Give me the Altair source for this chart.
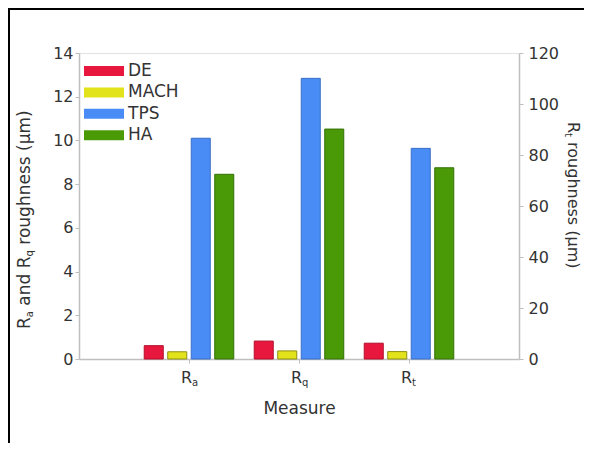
import altair as alt
import pandas as pd

# ---- data ----
measures = ["Ra", "Rq", "Rt"]
methods = ["DE", "MACH", "TPS", "HA"]
ra_values = [0.61, 0.33, 10.1, 8.45]      # µm, left axis
rq_values = [0.82, 0.37, 12.84, 10.52]    # µm, left axis
rt_values = [6.2, 2.9, 82.6, 75.0]        # µm, right axis
left_ticks = [0, 2, 4, 6, 8, 10, 12, 14]
right_ticks = [0, 20, 40, 60, 80, 100, 120]
x_label_main = ["R", "R", "R"]
x_label_sub = ["a", "q", "t"]

colors = ["#e8173d", "#e3e31b", "#4a8cf5", "#4a9a08"]
edge_colors = ["#b3102c", "#8f8f12", "#3a6fc6", "#357006"]

FONT = "DejaVu Sans"
TXT = "#333333"
AX = "#bfbfbf"

rows = []
for m, vals in (("Ra", ra_values), ("Rq", rq_values)):
    for meth, v in zip(methods, vals):
        rows.append({"measure": m, "method": meth, "value": v})
left_df = pd.DataFrame(rows)
right_df = pd.DataFrame({"measure": ["Rt"] * 4, "method": methods, "value": rt_values})
labels_df = pd.DataFrame({"measure": measures, "main": x_label_main, "sub": x_label_sub})
dummy = pd.DataFrame({"k": [0]})

x_enc = alt.X(
    "measure:N",
    scale=alt.Scale(domain=measures, paddingInner=0, paddingOuter=0.5),
    axis=alt.Axis(title="Measure", labels=False, tickSize=4, titlePadding=37,
                  titleFont=FONT, titleFontSize=17, titleFontWeight="normal", titleColor=TXT),
)
xoff = alt.XOffset("method:N", scale=alt.Scale(domain=methods, paddingInner=0.19, paddingOuter=0.435))
color = alt.Color(
    "method:N",
    scale=alt.Scale(domain=methods, range=colors),
    legend=alt.Legend(
        title=None, orient="none", legendX=5, legendY=8, padding=0,
        symbolType="M-2,-0.5H2V0.5H-2Z", symbolSize=400, symbolOffset=10,
        symbolStrokeWidth=0, labelOffset=14, rowPadding=3.4,
        labelFont=FONT, labelFontSize=17, labelColor=TXT,
    ),
)
stroke = alt.Stroke("method:N", scale=alt.Scale(domain=methods, range=edge_colors), legend=None)

left_bars = alt.Chart(left_df).mark_bar(strokeWidth=1).encode(
    x=x_enc, xOffset=xoff,
    y=alt.Y("value:Q", scale=alt.Scale(domain=[0, 14]),
            axis=alt.Axis(values=left_ticks, title=None, orient="left", labelPadding=2)),
    color=color, stroke=stroke,
)
right_bars = alt.Chart(right_df).mark_bar(strokeWidth=1).encode(
    x=x_enc, xOffset=xoff,
    y=alt.Y("value:Q", scale=alt.Scale(domain=[0, 120]),
            axis=alt.Axis(values=right_ticks, title=None, orient="right", labelPadding=5)),
    color=color, stroke=stroke,
)

lab_main = alt.Chart(labels_df).mark_text(
    align="right", baseline="middle", dx=3, font=FONT, fontSize=16, color=TXT
).encode(x=x_enc, y=alt.value(325), text="main:N")
lab_sub = alt.Chart(labels_df).mark_text(
    align="left", baseline="middle", dx=3, dy=5, font=FONT, fontSize=10, color=TXT
).encode(x=x_enc, y=alt.value(325), text="sub:N")


def piece(text, x, y, angle, dx, dy, size):
    return alt.Chart(dummy).mark_text(
        text=text, angle=angle, align="left", baseline="middle", dx=dx, dy=dy,
        font=FONT, fontSize=size, color=TXT,
    ).encode(x=alt.value(x), y=alt.value(y))


# left axis title: "Ra and Rq roughness (µm)" rotated (reads bottom to top)
LX, LY = -54, 276
left_title = [
    piece("R", LX, LY, 270, 0, 0, 17),
    piece("a", LX, LY, 270, 11.8, 5, 10),
    piece("and R", LX, LY, 270, 23.3, 0, 17),
    piece("q", LX, LY, 270, 72.5, 5, 10),
    piece("roughness (\u03bcm)", LX, LY, 270, 84.3, 0, 17),
]
# right axis title: "Rt roughness (µm)" (reads top to bottom)
RX, RY = 494, 69
right_title = [
    piece("R", RX, RY, 90, 0, 0, 16),
    piece("t", RX, RY, 90, 11.1, 5, 10),
    piece("roughness (\u03bcm)", RX, RY, 90, 20.1, 0, 16),
]

border = alt.Chart(dummy).mark_rect(fillOpacity=0, stroke="black", strokeWidth=2).encode(
    x=alt.value(-70), x2=alt.value(509), y=alt.value(-44), y2=alt.value(420)
)

chart = alt.layer(
    left_bars, right_bars, lab_main, lab_sub, *left_title, *right_title, border
).resolve_scale(y="independent").properties(
    width=440, height=306,
    autosize=alt.AutoSizeParams(type="none"),
    padding={"left": 71, "top": 45, "right": 65, "bottom": 84},
).configure_view(stroke="#e2e2e2").configure_axis(
    domainColor=AX, domainWidth=1.5, tickColor=AX, tickSize=4, grid=False,
    labelFont=FONT, labelFontSize=16, labelColor=TXT,
)

chart.save("out.html", embed_options={"renderer": "svg", "actions": False})
